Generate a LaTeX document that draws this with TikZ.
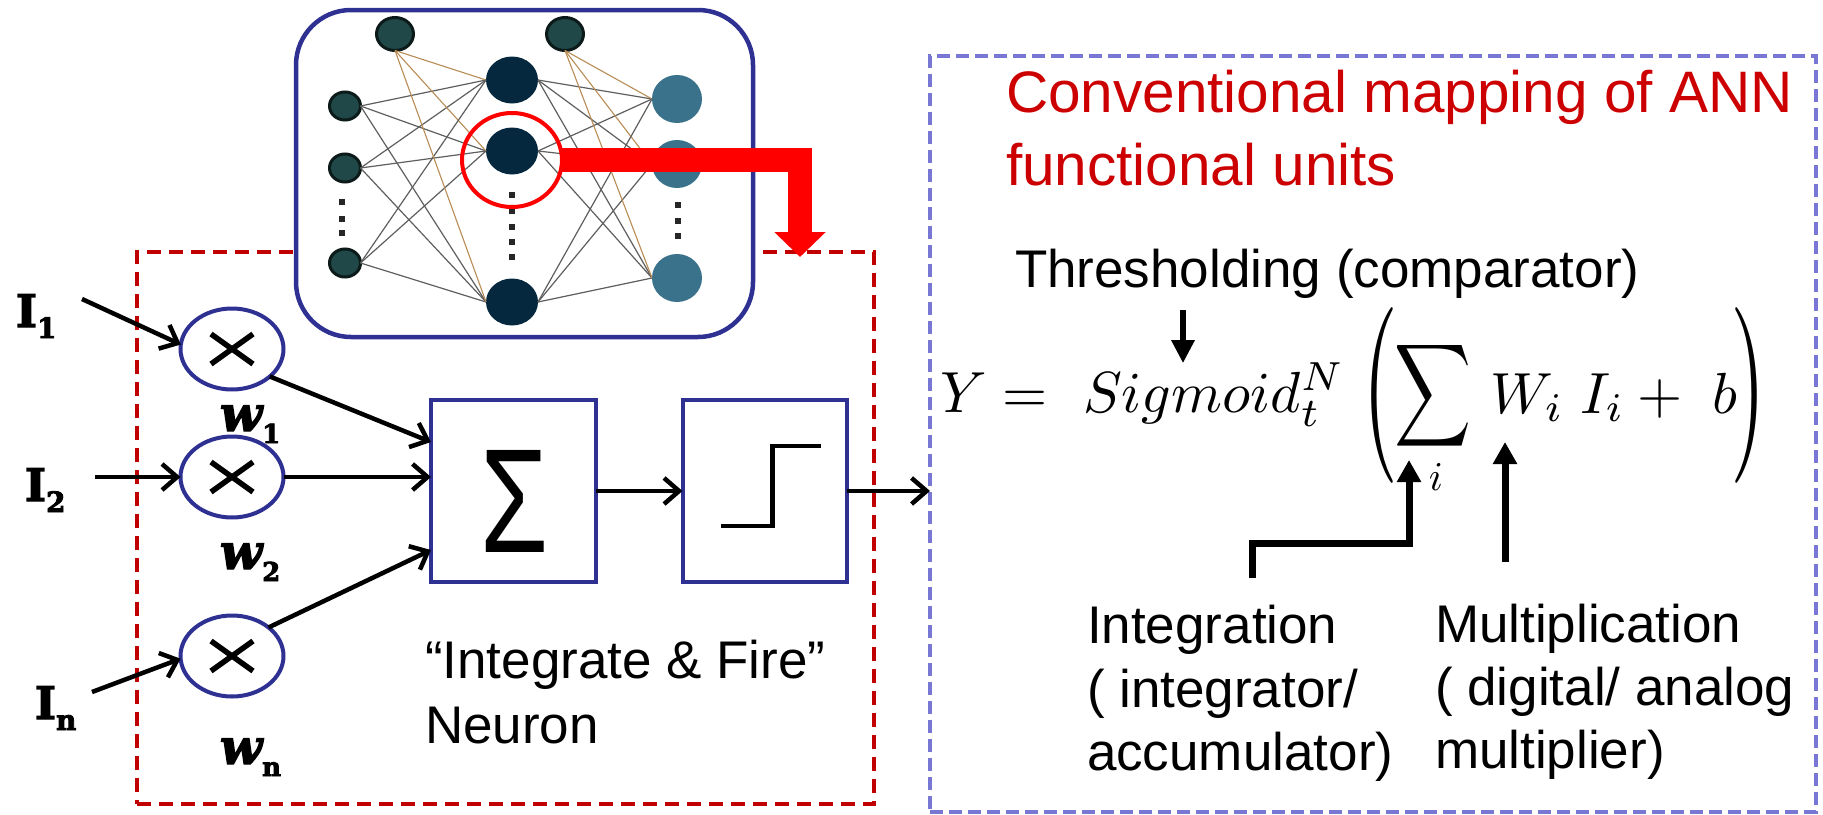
\documentclass[tikz,border=0pt]{standalone}
\usepackage[no-math]{fontspec}
\setmainfont{Liberation Sans}
\newfontfamily\heavyserif{DejaVu Serif Bold}[FakeBold=3]
\newfontfamily\heavyserifit{DejaVu Serif Bold Italic}[FakeBold=3]
\usepackage{graphicx}
\usetikzlibrary{arrows.meta,shapes.geometric,calc}

\definecolor{boxblue}{RGB}{46,49,146}
\definecolor{dashred}{RGB}{192,0,0}
\definecolor{dashblue}{RGB}{120,120,212}
\definecolor{titlered}{RGB}{204,0,0}
\definecolor{inpfill}{RGB}{32,72,72}
\definecolor{inpline}{RGB}{12,26,26}
\definecolor{hidfill}{RGB}{6,40,62}
\definecolor{outfill}{RGB}{58,114,140}
\definecolor{edgegray}{RGB}{95,95,95}
\definecolor{edgetan}{RGB}{185,140,85}

\begin{document}
\begin{tikzpicture}[x=1pt,y=-1pt,
  every node/.style={inner sep=0pt,outer sep=0pt},
  bodytext/.style={font=\fontsize{53}{64}\selectfont,anchor=base west},
  titletext/.style={font=\fontsize{58.5}{70}\selectfont,text=titlered,anchor=base west},
  inlabel/.style={font=\heavyserif\fontsize{45}{45}\selectfont,anchor=base west},
  wlabel/.style={font=\heavyserifit\fontsize{49}{49}\selectfont,anchor=base west},
  multnode/.style={ellipse,draw=boxblue,line width=4pt,fill=white,
    minimum width=103pt,minimum height=81pt,
    path picture={
      \draw[black,line width=5.5pt] ($(path picture bounding box.center)+(-21,-15)$) -- ($(path picture bounding box.center)+(21,15)$);
      \draw[black,line width=5.5pt] ($(path picture bounding box.center)+(-21,15)$) -- ($(path picture bounding box.center)+(21,-15)$);}},
  blockbox/.style={draw=boxblue,line width=4pt,minimum height=182pt},
  biasnode/.style={ellipse,fill=inpfill,draw=inpline,line width=3pt,minimum width=37pt,minimum height=33pt},
  innode/.style={ellipse,fill=inpfill,draw=inpline,line width=3pt,minimum width=31pt,minimum height=28pt},
  hidnode/.style={ellipse,fill=hidfill,minimum width=52pt,minimum height=47pt},
  outnode/.style={ellipse,fill=outfill,minimum width=50pt,minimum height=48pt},
  dotnode/.style={fill=black!85,minimum size=6pt},
  netedge/.style={draw=edgegray,line width=1.2pt},
  biasedge/.style={draw=edgetan,line width=1.1pt},
  flow/.style={line width=4.5pt,-{Straight Barb[length=15pt 0 0,width=26pt 0 0]}},
  pointer/.style={line width=7pt,line join=miter,-{Triangle[length=22pt 0 0,width=23pt 0 0]}},
]
\useasboundingbox (0,0) rectangle (1823,814);

% frames
\node[draw=dashred,line width=4.5pt,dash pattern=on 14pt off 8pt,
      minimum width=737pt,minimum height=552pt] (neuron) at (505.5,528) {};
\node[draw=dashblue,line width=4pt,dash pattern=on 13pt off 6pt,
      minimum width=886pt,minimum height=756pt] (mapping) at (1373,434) {};

% network panel
\node[draw=boxblue,fill=white,line width=4.5pt,rounded corners=55pt,
      minimum width=457pt,minimum height=327pt] (panel) at (524.5,173.5) {};

\node[biasnode] (b1) at (395,34) {};
\node[biasnode] (b2) at (565,34) {};
\node[innode] (x1) at (345,106) {};
\node[innode] (x2) at (345,168) {};
\node[innode] (x3) at (345,263) {};
\node[hidnode] (h1) at (512,80) {};
\node[hidnode] (h2) at (512,151) {};
\node[hidnode] (h3) at (512,302) {};
\node[outnode] (o1) at (677,99) {};
\node[outnode] (o2) at (677,164) {};
\node[outnode] (o3) at (677,278) {};

\foreach \i in {1,2,3}{
  \foreach \j in {1,2,3}{
    \draw[netedge] (x\i.east) -- (h\j.west);
    \draw[netedge] (h\i.east) -- (o\j.west);
  }
  \draw[biasedge] (b1.south) -- (h\i.west);
  \draw[biasedge] (b2.south) -- (o\i.west);
}

\foreach \y [count=\k] in {202,219,233} \node[dotnode] (xd\k) at (342,\y) {};
\foreach \y [count=\k] in {195,211,227,242,257} \node[dotnode] (hd\k) at (512,\y) {};
\foreach \y [count=\k] in {205,221,236} \node[dotnode] (od\k) at (678,\y) {};

% highlighted neuron and the drop arrow
\node[ellipse,draw=red,line width=4pt,minimum width=100pt,minimum height=94pt] (focus) at (512,160) {};
\coordinate (droppoint) at (800,257);
\draw[line width=24pt,red,line join=miter,-{Triangle[length=25pt 0 0,width=50pt 0 0]}]
  (focus.east) -| (droppoint);

% weighted inputs
\node[multnode] (m1) at (232,349) {};
\node[multnode] (m2) at (232,477) {};
\node[multnode] (m3) at (232,656) {};

\node[inlabel] (in1) at (16,327) {I\raisebox{-11pt}{\fontsize{28}{28}\selectfont 1}};
\node[inlabel] (in2) at (25,501) {I\raisebox{-11pt}{\fontsize{28}{28}\selectfont 2}};
\node[inlabel] (inn) at (35,719) {I\raisebox{-11pt}{\fontsize{28}{28}\selectfont n}};
\node[wlabel] (w1) at (220,431) {w\raisebox{-12pt}{\heavyserif\fontsize{26}{26}\selectfont 1}};
\node[wlabel] (w2) at (220,569) {w\raisebox{-12pt}{\heavyserif\fontsize{26}{26}\selectfont 2}};
\node[wlabel] (wn) at (220,764) {w\raisebox{-12pt}{\heavyserif\fontsize{26}{26}\selectfont n}};

\coordinate (in1tail) at (82,299);
\coordinate (in2tail) at (95,477);
\coordinate (inntail) at (92,692);
\draw[flow] (in1tail) -- (m1.175);
\draw[flow] (in2tail) -- (m2.west);
\draw[flow] (inntail) -- (m3.183);

% integrate and fire blocks
\node[blockbox,minimum width=165pt] (sum) at (513.5,491) {};
\node (sigma) at (515,501) {\resizebox*{68pt}{102pt}{Σ}};
\node[blockbox,minimum width=164pt] (fire) at (764.5,491) {};
\draw[line width=4.5pt] ($(fire.center)+(-44,35)$) -- ++(52,0) -- ++(0,-80) -- ++(48,0);

\draw[flow] (m1.-36) -- ($(sum.west)+(0,-49)$);
\draw[flow] (m2.east) -- (m2.east -| sum.west);
\draw[flow] (m3.38) -- ($(sum.west)+(0,59)$);
\draw[flow] (sum.east) -- (fire.west);
\draw[flow] (fire.east) -- (fire.east -| mapping.west);

\node[bodytext] (ifline) at (425,678) {“Integrate \& Fire”};
\node[bodytext] (neuronword) at (425,743) {Neuron};

% mapping of the functional units
\node[titletext] (title1) at (1006,112) {Conventional mapping of ANN};
\node[titletext] (title2) at (1006,185) {functional units};

\node[bodytext] (thr) at (1015,287) {Thresholding (comparator)};

\node[anchor=base west] (lhs) at (940,412) {\scalebox{5.8}{$Y =$}};
\node[anchor=base west] (sigm) at (1083,412) {\scalebox{5.8}{$Sigmoid_t^N$}};
\node (lpar) at (1380,395) {\resizebox*{36pt}{176pt}{$($}};
\node (bigsum) at (1433,395.5) {\resizebox*{77pt}{115pt}{$\displaystyle\sum$}};
\node (sumidx) at (1436,477) {\scalebox{4.1}{$i$}};
\node[anchor=base west] (terms) at (1490,413) {\scalebox{5.8}{$W_i\;I_i + \;b$}};
\node (rpar) at (1748,395) {\resizebox*{36pt}{176pt}{$)$}};

\coordinate (thrtail) at ($(thr.base west)+(168,23)$);
\draw[line width=6.5pt,-{Triangle[length=23pt 0 0,width=22pt 0 0]}] (thrtail) -- (thrtail |- sigm.north);

\coordinate (intail) at (1252,578);
\coordinate (intip) at (1409,460);
\draw[pointer] (intail) |- ($(intip)+(0,83)$) -- (intip);
\coordinate (multail) at (1505,562);
\coordinate (multip) at (1505,442);
\draw[pointer] (multail) -- (multip);

\node[bodytext] (intg1) at (1087,643) {Integration};
\node[bodytext] (intg2) at (1087,707) {( integrator/};
\node[bodytext] (intg3) at (1087,770) {accumulator)};
\node[bodytext] (mul1) at (1435,642) {Multiplication};
\node[bodytext] (mul2) at (1435,705) {( digital/ analog};
\node[bodytext] (mul3) at (1435,768) {multiplier)};
\end{tikzpicture}
\end{document}
